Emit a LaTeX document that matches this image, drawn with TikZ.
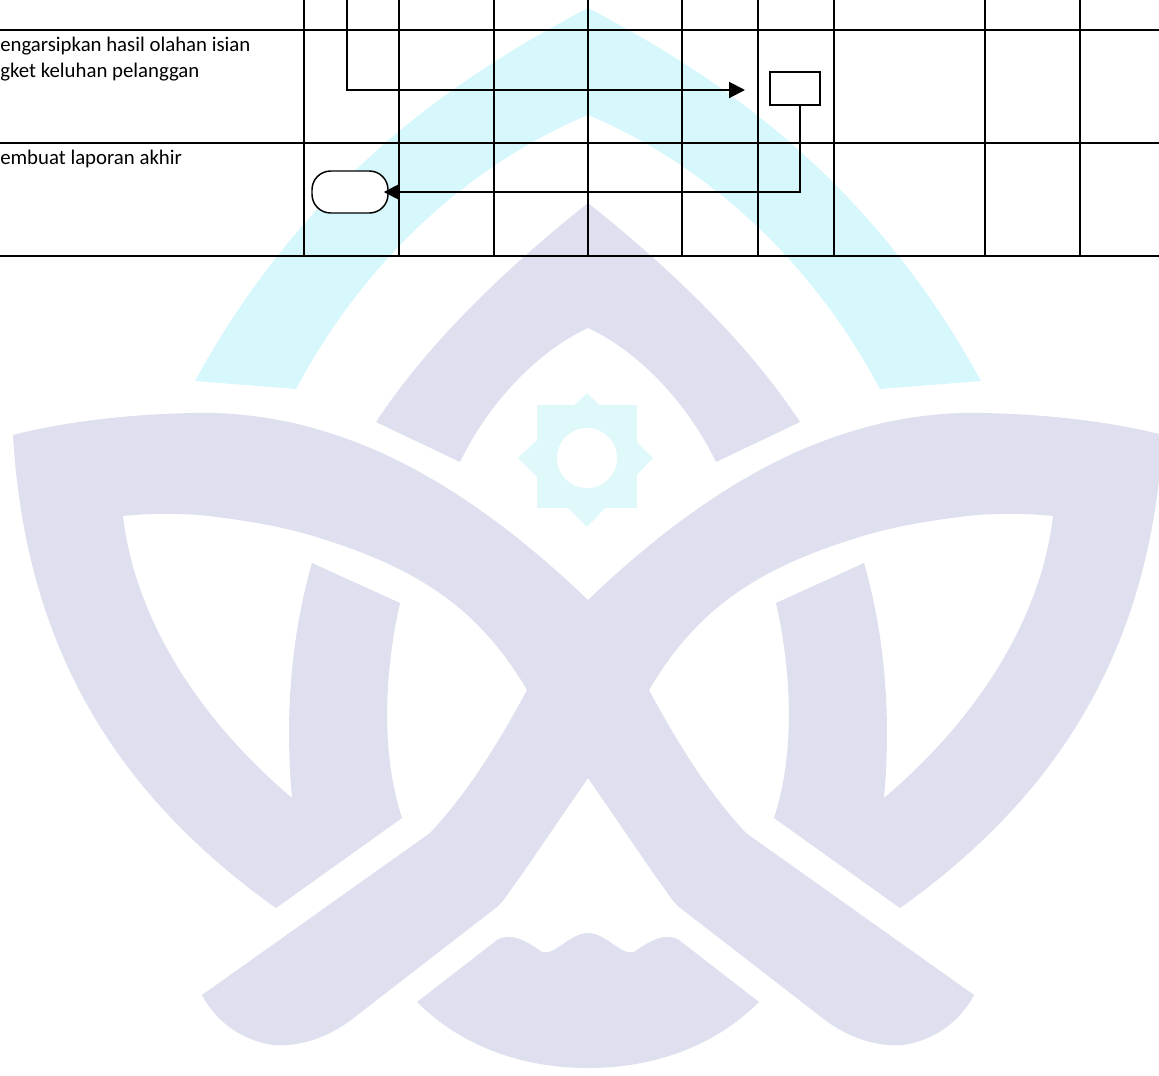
\documentclass[tikz,border=0pt]{standalone}
\usepackage{fontspec}
\setmainfont{Carlito}
\usetikzlibrary{arrows.meta, positioning, calc}
\definecolor{wmGrey}{HTML}{DEDFEF}
\definecolor{wmCyan}{HTML}{D6F7FB}
\definecolor{wmStar}{HTML}{DFF9FB}

\begin{document}
\begin{tikzpicture}[
  x=0.75pt, y=-0.75pt,
  rowtext/.style={anchor=north west, align=left, inner sep=0pt, font=\fontsize{15.6pt}{19.5pt}\selectfont},
  grid/.style={line width=1.5pt, color=black},
  archivebox/.style={draw, fill=white, line width=1.1pt, minimum width=37.5pt, minimum height=25pt, inner sep=0pt},
  endbox/.style={draw, fill=white, line width=1.1pt, rounded corners=14pt, minimum width=57pt, minimum height=31.5pt, inner sep=0pt},
  arr/.style={-{Triangle[length=12pt,width=12pt]}, line width=1.5pt, color=black},
  halfmark/.pic={
    \fill[wmCyan] (588,8) .. controls (470,70) and (310,170) .. (195,381) -- (296,389) .. controls (370,250) and (480,160) .. (588,115) -- cycle;
    \fill[wmGrey] (588,203) .. controls (510,265) and (430,340) .. (376,422) -- (460,462) .. controls (490,400) and (540,350) .. (588,328) -- cycle;
    \fill[wmGrey] (13,435) .. controls (70,420) and (150,412) .. (217,413) .. controls (260,415) and (295,422) .. (326,432) .. controls (420,460) and (510,525) .. (588,600)
      -- (588,778) -- (518,880) .. controls (510,890) and (505,900) .. (497,907) -- (360,1013)
      .. controls (330,1038) and (300,1047) .. (273,1045) .. controls (240,1040) and (215,1020) .. (202,995) -- (430,833) .. controls (470,790) and (500,740) .. (527,690)
      .. controls (480,610) and (420,570) .. (326,540) .. controls (290,528) and (255,522) .. (217,517) .. controls (190,513) and (150,513) .. (123,516)
      .. controls (135,620) and (200,720) .. (292,798) .. controls (285,720) and (290,640) .. (312,563)
      -- (400,603) .. controls (385,670) and (380,750) .. (402,818) -- (276,908)
      .. controls (110,790) and (25,640) .. (13,435) -- cycle;
    \fill[wmGrey] (417,1002) -- (497,940) .. controls (510,932) and (525,940) .. (542,952) .. controls (555,956) and (570,933) .. (588,933)
      -- (588,1068) .. controls (520,1068) and (460,1045) .. (417,1002) -- cycle;
  }
]
  \useasboundingbox (0,0) rectangle (1159,1075);

  % watermark
  \pic at (0,0) {halfmark};
  \pic[xscale=-1] at (1176,0) {halfmark};
  \fill[wmStar] (537,405) rectangle (637,508);
  \fill[wmStar] (587,393) -- (653,458) -- (587,527) -- (518,458) -- cycle;
  \fill[white] (587,458) circle (22.5pt);

  % table
  \foreach \rowy in {30,143,256} \draw[grid] (0,\rowy) -- (1159,\rowy);
  \foreach \colx in {304,399,494,588,682,758,834,985,1080} \draw[grid] (\colx,0) -- (\colx,256);

  \node[rowtext] (archivetext) at (0,37) {engarsipkan hasil olahan isian\\gket keluhan pelanggan};
  \node[rowtext] (reporttext) at (0,149.5) {embuat laporan akhir};

  \node[archivebox] (archive) at (795,88.5) {};
  \node[endbox] (report) at (350,192) {};

  \coordinate (flowstart) at (347,0);
  \coordinate (flowend) at (745,90);

  \draw[arr] (flowstart) |- (flowend);
  \draw[arr] ([xshift=3.75pt]archive.south) |- ([xshift=-3.75pt]report.east);
\end{tikzpicture}
\end{document}
